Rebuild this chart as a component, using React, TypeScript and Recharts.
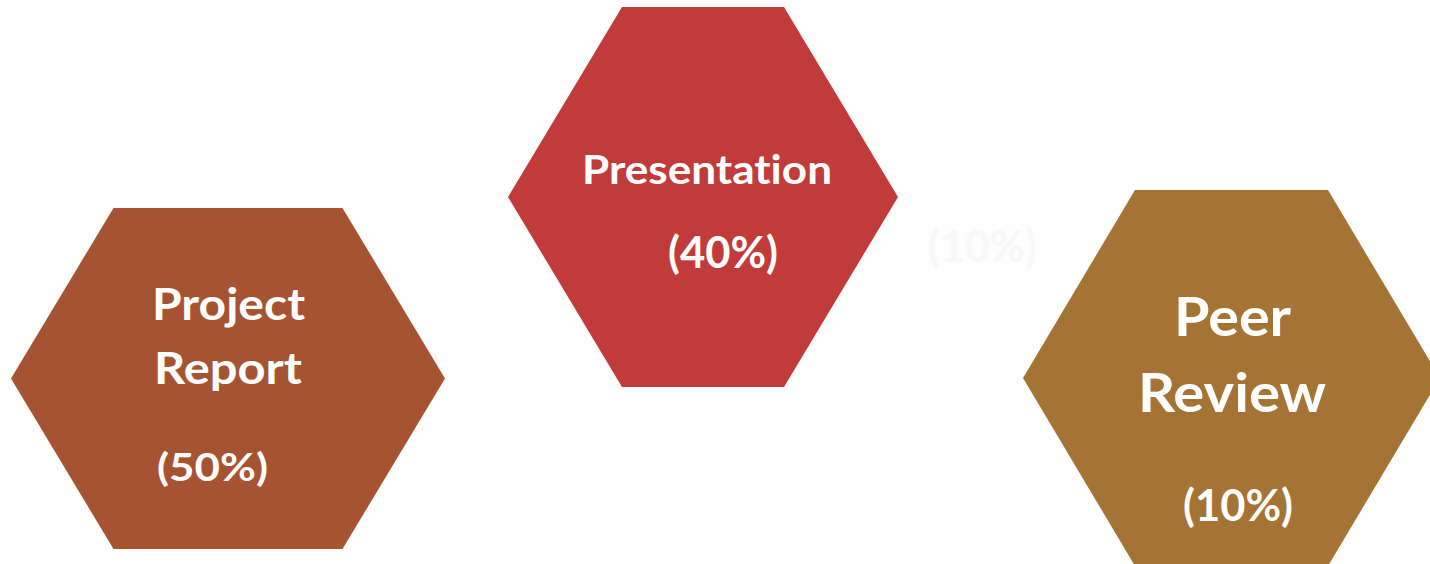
import React from 'react';
import { ScatterChart, Scatter, XAxis, YAxis } from 'recharts';

// ---- data ----
const categories = ['Project Report', 'Presentation', 'Peer Review'];
const weights = [50, 40, 10];

// ---- layout (chart units map 1:1 to pixels) ----
const centerX = [228, 703, 1231.5];
const centerY = [378.5, 197, 378];
const halfWidth = [217, 195, 208.5];
const halfHeight = [170.5, 190, 188];
const halfTopEdge = [114.5, 81, 96.5];
const colors = ['#A65332', '#C23B3B', '#A57334'];

// per hexagon: offsets for title lines then percent line [dx, dy, fontSize, width]
const titleLayout: number[][][] = [
  [[0.5, -58.5, 44, 153], [0, 5.5, 44, 148]],
  [[4, -13, 40.5, 250]],
  [[1, -42, 54, 117], [0.5, 34, 54, 188]],
];
const pctLayout: number[][] = [
  [-15.5, 102.5, 39, 111],
  [20, 71, 43, 110],
  [6.5, 143, 44.5, 110],
];
// faint duplicate label seen left of the Peer Review hexagon
const ghostLayout = [-249, -116, 44.5, 109];

const W = 1430;
const H = 564;

const rows = categories.map((name, i) => ({
  name,
  weight: weights[i],
  x: centerX[i],
  y: centerY[i],
  idx: i,
}));

const FONT = 'Lato, "Open Sans", sans-serif';

const Line = ({ x, y, text, size, width, fill }: any) => (
  <text
    x={x}
    y={y}
    textAnchor="middle"
    fontFamily={FONT}
    fontWeight={700}
    fontSize={size}
    fill={fill}
    textLength={width}
    lengthAdjust="spacingAndGlyphs"
    style={{ fontVariantLigatures: 'none', fontFeatureSettings: '"liga" 0, "clig" 0, "dlig" 0' }}
  >
    {text}
  </text>
);

const Hexagon = (props: any) => {
  const { cx, cy, payload } = props;
  const i = payload.idx;
  const hw = halfWidth[i];
  const hh = halfHeight[i];
  const ht = halfTopEdge[i];
  const pts = [
    [cx - hw, cy],
    [cx - ht, cy - hh],
    [cx + ht, cy - hh],
    [cx + hw, cy],
    [cx + ht, cy + hh],
    [cx - ht, cy + hh],
  ]
    .map((p) => p.join(','))
    .join(' ');
  const words = payload.name.split(' ');
  const pct = `(${payload.weight}%)`;
  return (
    <g>
      <polygon points={pts} fill={colors[i]} />
      {titleLayout[i].map((l, k) => (
        <Line key={k} x={cx + l[0]} y={cy + l[1]} size={l[2]} width={l[3]} text={words[k]} fill="#FFFFFF" />
      ))}
      <Line
        x={cx + pctLayout[i][0]}
        y={cy + pctLayout[i][1]}
        size={pctLayout[i][2]}
        width={pctLayout[i][3]}
        text={pct}
        fill="#FFFFFF"
      />
      {i === 2 && (
        <Line
          x={cx + ghostLayout[0]}
          y={cy + ghostLayout[1]}
          size={ghostLayout[2]}
          width={ghostLayout[3]}
          text={pct}
          fill="#F8F8F8"
        />
      )}
    </g>
  );
};

export default function App() {
  return (
    <div style={{ position: 'fixed', left: 0, top: 0, width: W, height: H, background: '#FEFEFE', overflow: 'hidden' }}>
      <ScatterChart width={W} height={H} margin={{ top: 0, right: 0, bottom: 0, left: 0 }}>
        <XAxis type="number" dataKey="x" domain={[0, W]} hide />
        <YAxis type="number" dataKey="y" domain={[0, H]} reversed hide />
        <Scatter data={rows} shape={Hexagon} isAnimationActive={false} />
      </ScatterChart>
    </div>
  );
}
